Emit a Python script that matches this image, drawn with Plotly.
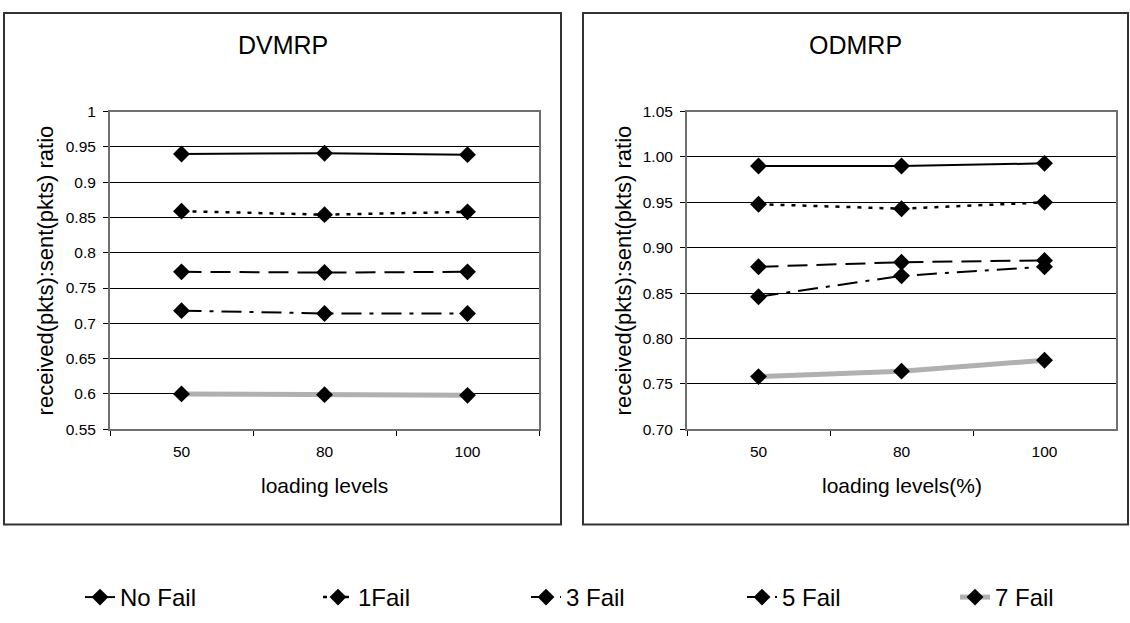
import plotly.graph_objects as go

# ---------------- data ----------------
loading = ["50", "80", "100"]
series_names = ["No Fail", "1Fail", "3 Fail", "5 Fail", "7 Fail"]

dvmrp_no_fail = [0.940, 0.941, 0.939]
dvmrp_1_fail = [0.859, 0.854, 0.858]
dvmrp_3_fail = [0.773, 0.772, 0.773]
dvmrp_5_fail = [0.718, 0.714, 0.714]
dvmrp_7_fail = [0.600, 0.599, 0.598]

odmrp_no_fail = [0.990, 0.990, 0.993]
odmrp_1_fail = [0.948, 0.943, 0.950]
odmrp_3_fail = [0.879, 0.884, 0.886]
odmrp_5_fail = [0.846, 0.869, 0.879]
odmrp_7_fail = [0.758, 0.764, 0.776]

dvmrp_ticks = [0.55, 0.6, 0.65, 0.7, 0.75, 0.8, 0.85, 0.9, 0.95, 1.0]
odmrp_ticks = [0.70, 0.75, 0.80, 0.85, 0.90, 0.95, 1.00, 1.05]

# ---------------- styles ----------------
W, H = 1130, 623
FONT = "Liberation Sans, Arial, sans-serif"
styles = [
    dict(color="black", width=2, dash="solid"),
    dict(color="black", width=2.5, dash="4px,7px"),
    dict(color="black", width=2, dash="20px,9px"),
    dict(color="black", width=2, dash="20px,8px,4px,8px"),
    dict(color="#b0b0b0", width=5, dash="solid"),
]
# left edge (px) of each legend entry
legend_left = [80, 318, 526, 742, 955]
legend_ids = ["legend", "legend2", "legend3", "legend4", "legend5"]

dvmrp = [dvmrp_no_fail, dvmrp_1_fail, dvmrp_3_fail, dvmrp_5_fail, dvmrp_7_fail]
odmrp = [odmrp_no_fail, odmrp_1_fail, odmrp_3_fail, odmrp_5_fail, odmrp_7_fail]

fig = go.Figure()
for i, name in enumerate(series_names):
    for data, xa, ya, show in ((dvmrp, "x", "y", True), (odmrp, "x2", "y2", False)):
        fig.add_trace(go.Scatter(
            x=loading, y=data[i], xaxis=xa, yaxis=ya,
            mode="lines+markers", name=name, legendgroup=name, showlegend=show,
            legend=legend_ids[i],
            line=styles[i],
            marker=dict(symbol="diamond", size=13, color="black"),
        ))

def px_x(p):
    return p / W

def px_y(p):
    return 1 - p / H

top, bottom = 105.5, 432

axis_common = dict(
    showline=True, mirror=True, linecolor="#707070", linewidth=2,
    tickfont=dict(family=FONT, size=15.5, color="black"),
)
xcommon = dict(type="category", range=[-0.5, 2.5], tickson="boundaries",
               ticks="outside", ticklen=5, tickcolor="black", showgrid=False,
               ticklabelstandoff=7, **axis_common)
ycommon = dict(ticks="outside", ticklen=5, tickcolor="black", showgrid=True,
               gridcolor="black", gridwidth=1, zeroline=False,
               ticklabelstandoff=4, **axis_common)

legend_layout = {}
for lid, lx in zip(legend_ids, legend_left):
    legend_layout[lid] = dict(
        orientation="h", x=px_x(lx), xanchor="left", y=px_y(605), yanchor="middle",
        font=dict(family=FONT, size=24, color="black"), bgcolor="rgba(0,0,0,0)",
    )

fig.update_layout(
    width=W, height=H,
    margin=dict(l=0, r=0, t=0, b=0),
    paper_bgcolor="white", plot_bgcolor="white",
    font=dict(family=FONT, color="black"),
    xaxis=dict(domain=[px_x(110), px_x(539)], anchor="y", **xcommon),
    yaxis=dict(domain=[px_y(bottom), px_y(top)], anchor="x", range=[0.55, 1.0],
               tickvals=dvmrp_ticks, **ycommon),
    xaxis2=dict(domain=[px_x(687), px_x(1116)], anchor="y2", **xcommon),
    yaxis2=dict(domain=[px_y(bottom), px_y(top)], anchor="x2", range=[0.70, 1.05],
                tickvals=odmrp_ticks, tickformat=".2f", **ycommon),
    showlegend=True,
    **legend_layout,
)

# panel frames
for x0, x1 in ((4, 561), (583, 1128)):
    fig.add_shape(type="rect", xref="paper", yref="paper",
                  x0=px_x(x0), x1=px_x(x1), y0=px_y(530), y1=px_y(4),
                  line=dict(color="#333333", width=2), fillcolor="rgba(0,0,0,0)",
                  layer="below")

# titles and axis titles
panels = [
    ("DVMRP", "loading levels", (4 + 561) / 2, (110 + 539) / 2, 45),
    ("ODMRP", "loading levels(%)", (583 + 1128) / 2, (687 + 1116) / 2, 623),
]
for title, xtitle, cx_box, cx_plot, ytx in panels:
    fig.add_annotation(text=title, xref="paper", yref="paper", x=px_x(cx_box), y=px_y(37),
                       showarrow=False, font=dict(family=FONT, size=25, color="black"),
                       xanchor="center", yanchor="middle")
    fig.add_annotation(text=xtitle, xref="paper", yref="paper", x=px_x(cx_plot), y=px_y(490),
                       showarrow=False, font=dict(family=FONT, size=21, color="black"),
                       xanchor="center", yanchor="middle")
    fig.add_annotation(text="received(pkts):sent(pkts) ratio", xref="paper", yref="paper",
                       x=px_x(ytx), y=px_y((top + bottom) / 2), textangle=-90,
                       showarrow=False, font=dict(family=FONT, size=22, color="black"),
                       xanchor="center", yanchor="middle")

fig.write_html("out.html")
